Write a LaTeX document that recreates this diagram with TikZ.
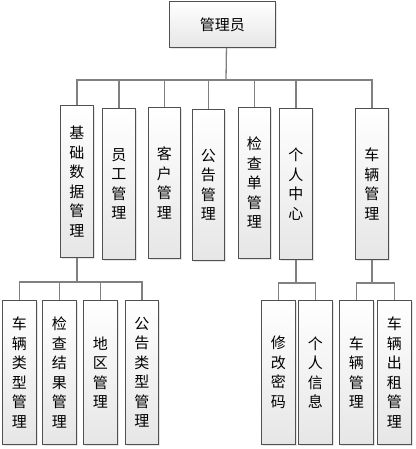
\documentclass[tikz,border=0pt]{standalone}
\usepackage{fontspec}
\setmainfont{Noto Sans CJK SC}
\usetikzlibrary{shadows}
\definecolor{linec}{RGB}{128,128,128}
\definecolor{boxb}{RGB}{80,80,80}
\definecolor{boxg}{RGB}{230,230,230}
\tikzset{
  bx/.style={draw=boxb, line width=0.9pt, top color=white, bottom color=boxg,
    drop shadow={shadow xshift=1.2pt, shadow yshift=-1.2pt, fill=black!20},
    anchor=north west, inner sep=0pt, align=center,
    font=\fontsize{15}{19.5}\selectfont},
  conn/.style={draw=linec, line width=1.3pt}
}
\newcommand{\bxat}[6]{%
  \node[bx, minimum width=#3pt, minimum height=#4pt] (#5) at (#1,#2) {#6};}
\begin{document}
\begin{tikzpicture}[x=1pt,y=-1pt]
\useasboundingbox (0,0) rectangle (415,449);
% top
\bxat{169}{1}{106}{46}{top}{管理员}
% level 2
\bxat{60}{105}{33}{152}{jc}{基\\础\\数\\据\\管\\理}
\bxat{102}{108}{33}{151}{yg}{员\\工\\管\\理}
\bxat{148}{107}{32}{151}{kh}{客\\户\\管\\理}
\bxat{192}{109}{32}{151}{gg}{公\\告\\管\\理}
\bxat{238}{107}{32}{151}{jcd}{检\\查\\单\\管\\理}
\bxat{279}{108}{33}{151}{gr}{个\\人\\中\\心}
\bxat{355}{108}{33}{151}{cl}{车\\辆\\管\\理}
% level 3
\bxat{2}{300}{34}{144}{cllx}{车\\辆\\类\\型\\管\\理}
\bxat{42}{300}{34}{144}{jcjg}{检\\查\\结\\果\\管\\理}
\bxat{83}{300}{34}{144}{dq}{地\\区\\管\\理}
\bxat{125}{300}{33}{144}{gglx}{公\\告\\类\\型\\管\\理}
\bxat{261}{300}{34}{144}{xgmm}{修\\改\\密\\码}
\bxat{298}{300}{34}{144}{grxx}{个\\人\\信\\息}
\bxat{339}{300}{34}{144}{clgl}{车\\辆\\管\\理}
\bxat{377}{300}{34}{144}{clcz}{车\\辆\\出\\租\\管\\理}
% connectors level 1 -> 2
\coordinate (b1) at (226,80);
\draw[conn] ([xshift=4pt]top.south) -- (b1);
\foreach \n in {jc,yg,kh,gg,jcd,gr,cl}{
  \draw[conn] (b1) -| (\n.north);
}
% level 2 -> 3
\coordinate (b2) at (77,282);
\draw[conn] (jc.south) -- (jc.south |- b2);
\foreach \n in {cllx,jcjg,dq,gglx}{
  \draw[conn] (jc.south |- b2) -| (\n.north);
}
\coordinate (b3) at (295,283);
\draw[conn] (gr.south) -- (gr.south |- b3);
\foreach \n in {xgmm,grxx}{
  \draw[conn] (gr.south |- b3) -| (\n.north);
}
\coordinate (b4) at (372,283);
\draw[conn] (cl.south) -- (cl.south |- b4);
\foreach \n in {clgl,clcz}{
  \draw[conn] (cl.south |- b4) -| (\n.north);
}
\end{tikzpicture}
\end{document}
